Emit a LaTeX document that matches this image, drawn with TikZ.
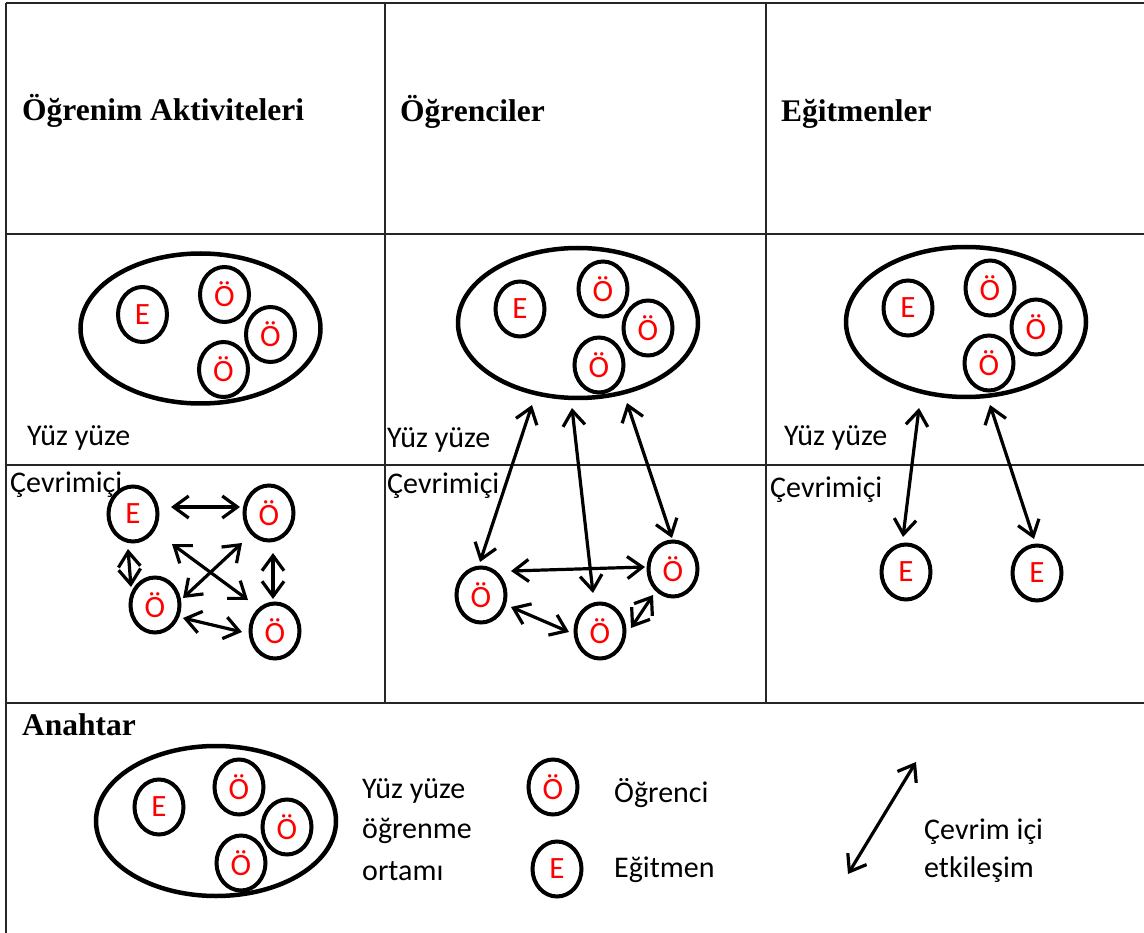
\documentclass[tikz,border=0pt]{standalone}
\usepackage{fontspec}
\setmainfont{Carlito}
\newfontfamily\headfont{Liberation Serif}
\usetikzlibrary{arrows.meta,shapes.geometric}
\begin{document}
\begin{tikzpicture}[x=1pt,y=-1pt,
  gridline/.style={line width=1.5pt, black!85},
  bigell/.style={ellipse, draw, line width=4.5pt, minimum width=240pt, minimum height=150pt, inner sep=0pt},
  sm/.style={ellipse, draw, line width=4pt, minimum width=49pt, minimum height=55pt, inner sep=0pt, text=red, font=\fontsize{31}{31}\selectfont},
  hdr/.style={anchor=base west, inner sep=0pt, font=\headfont\bfseries\fontsize{31.5}{31.5}\selectfont},
  lbl/.style={anchor=base west, inner sep=0pt, font=\fontsize{30}{30}\selectfont},
  arr/.style={line width=3.2pt, {Straight Barb[length=15pt,width=22pt]}-{Straight Barb[length=15pt,width=22pt]}}
]
\useasboundingbox (0,0) rectangle (1144,933);
% table
\draw[gridline] (6,3) -- (1144,3);
\draw[gridline] (6,3) -- (6,933);
\draw[gridline] (6,234) -- (1144,234);
\draw[gridline] (6,465) -- (1144,465);
\draw[gridline] (6,703) -- (1144,703);
\draw[gridline] (385,3) -- (385,703);
\draw[gridline] (766,3) -- (766,703);

% headers
\node[hdr] (h1) at (22,121) {Öğrenim Aktiviteleri};
\node[hdr] (h2) at (400,122) {Öğrenciler};
\node[hdr] (h3) at (781,122) {Eğitmenler};

% row labels
\node[lbl] (y1) at (27,446) {Yüz yüze};
\node[lbl] (y2) at (387,447) {Yüz yüze};
\node[lbl] (y3) at (784,446) {Yüz yüze};
\node[lbl] (c1) at (10,492) {Çevrimiçi};
\node[lbl] (c2) at (387,493) {Çevrimiçi};
\node[lbl] (c3) at (770,497) {Çevrimiçi};

% face-to-face ellipses
\node[bigell] (E1) at (200.5,328.5) {};
\node[sm] (E1e) at (142.5,314.5) {E};
\node[sm] (E1a) at (224.5,294.5) {Ö};
\node[sm] (E1b) at (270.5,334.5) {Ö};
\node[sm] (E1c) at (223.5,369.5) {Ö};

\node[bigell] (E2) at (578,323) {};
\node[sm] (E2e) at (520,309) {E};
\node[sm] (E2a) at (603,289) {Ö};
\node[sm] (E2b) at (648,328) {Ö};
\node[sm] (E2c) at (599,365) {Ö};

\node[bigell] (E3) at (966,322) {};
\node[sm] (E3e) at (908,308) {E};
\node[sm] (E3a) at (990,288) {Ö};
\node[sm] (E3b) at (1036,327) {Ö};
\node[sm] (E3c) at (989,363) {Ö};

% column 1 online
\node[sm] (A1) at (133,514) {E};
\node[sm] (A2) at (269,513) {Ö};
\node[sm] (A3) at (155,605) {Ö};
\node[sm] (A4) at (275,631) {Ö};
\draw[arr] ([shift={(38,-7)}]A1.center) -- ([shift={(-29,-6)}]A2.center);
\draw[arr] ([shift={(-5,35)}]A1.center) -- ([shift={(-24,-18)}]A3.center);
\draw[arr] ([shift={(39,30)}]A1.center) -- ([shift={(-27,-31)}]A4.center);
\draw[arr] ([shift={(-27,30)}]A2.center) -- ([shift={(28,-7)}]A3.center);
\draw[arr] ([shift={(4,40)}]A2.center) -- ([shift={(-2,-32)}]A4.center);
\draw[arr] ([shift={(28,13)}]A3.center) -- ([shift={(-33,1)}]A4.center);

% column 2 online
\node[sm] (B1) at (481,595) {Ö};
\node[sm] (B2) at (600,631) {Ö};
\node[sm] (B3) at (673,569) {Ö};
\draw[arr] ([shift={(-46,82)}]E2.center) -- ([shift={(-1,-33)}]B1.center);
\draw[arr] ([shift={(-6,85)}]E2.center) -- ([shift={(-7,-38)}]B2.center);
\draw[arr] ([shift={(49,80)}]E2.center) -- ([shift={(-1,-31)}]B3.center);
\draw[arr] ([shift={(30,-24)}]B1.center) -- ([shift={(-28,-2)}]B3.center);
\draw[arr] ([shift={(30,12)}]B1.center) -- ([shift={(-31,1)}]B2.center);
\draw[arr] ([shift={(31,-3)}]B2.center) -- ([shift={(-20,26)}]B3.center);

% column 3 online
\node[sm] (C1) at (906,572) {E};
\node[sm] (C2) at (1037,573) {E};
\draw[arr] ([shift={(-47,86)}]E3.center) -- ([shift={(-3,-35)}]C1.center);
\draw[arr] ([shift={(24,83)}]E3.center) -- ([shift={(-3,-34)}]C2.center);

% key
\node[hdr] (key) at (22,735) {Anahtar};
\node[bigell] (K) at (216,821) {};
\node[sm] (Ke) at (159,807) {E};
\node[sm] (Ka) at (239,787) {Ö};
\node[sm] (Kb) at (287,827) {Ö};
\node[sm] (Kc) at (241,863) {Ö};
\node[lbl] (k1) at (362,798) {Yüz yüze};
\node[lbl] (k2) at (362,838) {öğrenme};
\node[lbl] (k3) at (362,880) {ortamı};
\node[sm] (KO) at (553,787) {Ö};
\node[sm] (KE) at (557,869) {E};
\node[lbl] (k4) at (614,802) {Öğrenci};
\node[lbl] (k5) at (614,877) {Eğitmen};
\coordinate (ka) at (848,874);
\coordinate (kb) at (916,762);
\draw[arr] (ka) -- (kb);
\node[lbl] (k6) at (924,839) {Çevrim içi};
\node[lbl] (k7) at (924,877) {etkileşim};
\end{tikzpicture}
\end{document}
